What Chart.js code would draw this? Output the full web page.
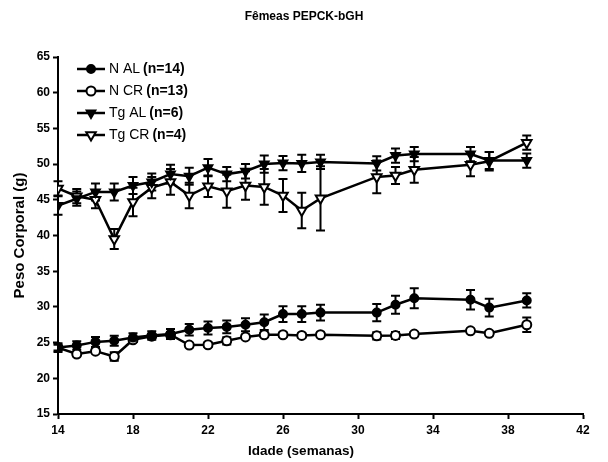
<!DOCTYPE html>
<html>
<head>
<meta charset="utf-8">
<script src="https://cdn.jsdelivr.net/npm/chart.js@4.4.0/dist/chart.umd.min.js"></script>
<style>
html,body{margin:0;padding:0;background:#fff;}
#wrap{position:relative;width:608px;height:462px;}
</style>
</head>
<body>
<div id="wrap"><canvas id="c" width="608" height="462"></canvas></div>
<script>
const weeks = [14,15,16,17,18,19,20,21,22,23,24,25,26,27,28,31,32,33,36,37,39];
const nAL = [24.3,24.6,25.1,25.25,25.7,26.0,26.2,26.8,27.05,27.2,27.5,27.85,29.0,29.0,29.2,29.2,30.3,31.2,31.0,29.9,30.9];
const nALErr = [0.6,0.6,0.7,0.7,0.6,0.6,0.7,0.8,0.9,0.9,0.9,1.1,1.1,1.1,1.1,1.2,1.25,1.4,1.35,1.25,1.0];
const nCR = [24.3,23.4,23.8,23.05,25.4,25.9,26.1,24.65,24.7,25.25,25.8,26.1,26.1,26.0,26.1,25.95,26.0,26.2,26.65,26.3,27.5];
const nCRErr = [0.4,0.3,0.3,0.6,0.3,0.3,0.4,0.3,0.3,0.5,0.3,0.3,0.3,0.3,0.3,0.5,0.5,0.3,0.3,0.3,1.0];
const tgAL = [44.2,45.15,46.1,46.1,47.0,47.5,48.6,48.3,49.5,48.6,49.0,50.0,50.15,50.1,50.3,50.1,51.2,51.4,51.4,50.5,50.5];
const tgALErr = [1.3,1.0,1.2,1.2,1.2,1.2,1.3,1.2,1.2,1.0,1.0,1.2,1.0,1.2,1.0,1.0,1.0,1.0,1.0,1.2,1.0];
const tgCR = [46.6,45.5,45.0,39.5,44.7,46.7,47.5,45.6,46.9,46.2,47.0,46.8,45.6,43.5,45.2,48.2,48.4,49.2,49.9,50.4,53.0];
const tgCRErr = [1.0,1.0,1.2,1.4,2.0,1.5,1.8,1.8,1.5,2.3,2.0,2.5,2.3,2.5,4.5,2.3,1.2,1.8,1.6,1.3,1.0];

const seriesNames = ['N AL','N CR','Tg AL','Tg CR'];
const seriesN = ['(n=14)','(n=13)','(n=6)','(n=4)'];
const xTicks = [14,18,22,26,30,34,38,42];
const yTicks = [15,20,25,30,35,40,45,50,55,60,65];
const chartTitle = 'Fêmeas PEPCK-bGH';
const xTitle = 'Idade (semanas)';
const yTitle = 'Peso Corporal (g)';

const FONT = 'Arial, "Liberation Sans", Helvetica, sans-serif';

function pts(vals){ return weeks.map((w,i)=>({x:w,y:vals[i]})); }

const styles = [
  {pointStyle:'circle', bg:'#000', r:4, rot:0},
  {pointStyle:'circle', bg:'#fff', r:4.5, rot:0},
  {pointStyle:'triangle', bg:'#000', r:5, rot:180},
  {pointStyle:'triangle', bg:'#fff', r:5.5, rot:180}
];
const vals = [nAL,nCR,tgAL,tgCR];
const errs = [nALErr,nCRErr,tgALErr,tgCRErr];

const datasets = vals.map((v,k)=>({
  label: seriesNames[k],
  data: pts(v),
  errors: errs[k],
  borderColor:'#000',
  borderWidth:2.5,
  pointStyle: styles[k].pointStyle,
  pointRadius: styles[k].r,
  pointRotation: styles[k].rot,
  pointBackgroundColor: styles[k].bg,
  pointBorderColor:'#000',
  pointBorderWidth:2,
  tension:0,
  fill:false
}));

const errorBars = {
  id:'errorBars',
  beforeDatasetsDraw(chart){
    const ctx = chart.ctx, xs = chart.scales.x, ys = chart.scales.y;
    ctx.save();
    ctx.strokeStyle = '#000';
    ctx.lineWidth = 2;
    chart.data.datasets.forEach(ds=>{
      ds.data.forEach((p,i)=>{
        const e = ds.errors[i];
        const px = xs.getPixelForValue(p.x);
        const top = ys.getPixelForValue(p.y + e);
        const bot = ys.getPixelForValue(p.y - e);
        ctx.beginPath();
        ctx.moveTo(px, top); ctx.lineTo(px, bot);
        ctx.moveTo(px-4.5, top); ctx.lineTo(px+4.5, top);
        ctx.moveTo(px-4.5, bot); ctx.lineTo(px+4.5, bot);
        ctx.stroke();
      });
    });
    ctx.restore();
  }
};

const titlesPlugin = {
  id:'titles',
  afterDraw(chart){
    const ctx = chart.ctx, ca = chart.chartArea;
    ctx.save();
    ctx.fillStyle = '#000';
    ctx.textAlign = 'center';
    ctx.textBaseline = 'middle';
    ctx.font = 'bold 12px ' + FONT;
    ctx.fillText(chartTitle, 304, 17);
    ctx.font = 'bold 13.5px ' + FONT;
    ctx.fillText(xTitle, 301, 451);
    ctx.font = 'bold 15px ' + FONT;
    ctx.translate(20, (ca.top + ca.bottom)/2);
    ctx.rotate(-Math.PI/2);
    ctx.fillText(yTitle, 0, 0);
    ctx.restore();
  }
};

const legendPlugin = {
  id:'customLegend',
  afterDraw(chart){
    const ctx = chart.ctx;
    ctx.save();
    const x0 = 77, x1 = 105, mx = 91, tx = 109;
    const rows = [69,91,113,135];
    chart.data.datasets.forEach((ds,k)=>{
      const y = rows[k];
      ctx.strokeStyle = '#000';
      ctx.lineWidth = 2.5;
      ctx.beginPath(); ctx.moveTo(x0,y); ctx.lineTo(x1,y); ctx.stroke();
      ctx.fillStyle = ds.pointBackgroundColor;
      ctx.lineWidth = 2;
      Chart.helpers.drawPoint(ctx, {pointStyle: ds.pointStyle, radius: ds.pointRadius, rotation: ds.pointRotation, borderWidth:2}, mx, y);
      ctx.fillStyle = '#000';
      ctx.textBaseline = 'middle';
      ctx.textAlign = 'left';
      ctx.font = '14px ' + FONT;
      ctx.fillText(seriesNames[k], tx, y+0.5);
      const w = ctx.measureText(seriesNames[k]).width;
      ctx.font = 'bold 14px ' + FONT;
      ctx.fillText(seriesN[k], tx + w + 3, y+0.5);
    });
    ctx.restore();
  }
};

new Chart(document.getElementById('c'), {
  type:'line',
  data:{datasets},
  plugins:[errorBars, titlesPlugin, legendPlugin],
  options:{
    responsive:false,
    animation:false,
    layout:{padding:{left:0,right:25,top:57,bottom:0}},
    plugins:{
      legend:{display:false},
      tooltip:{enabled:false},
      title:{display:false}
    },
    scales:{
      x:{type:'linear', min:14, max:42,
        afterBuildTicks(s){ s.ticks = xTicks.map(v=>({value:v})); },
        afterFit(s){ s.height = 48; },
        border:{display:true, color:'#000', width:2},
        grid:{display:true, drawOnChartArea:false, drawTicks:true, tickLength:5, tickColor:'#000', tickWidth:2},
        ticks:{color:'#000', font:{family:FONT, size:12, weight:'bold'}, padding:4, maxRotation:0},
        title:{display:false}
      },
      y:{type:'linear', min:15, max:65,
        afterBuildTicks(s){ s.ticks = yTicks.map(v=>({value:v})); },
        afterFit(s){ s.width = 58; },
        border:{display:true, color:'#000', width:2},
        grid:{display:true, drawOnChartArea:false, drawTicks:true, tickLength:5, tickColor:'#000', tickWidth:2},
        ticks:{color:'#000', font:{family:FONT, size:12, weight:'bold'}, padding:3},
        title:{display:false}
      }
    }
  }
});
</script>
</body>
</html>
